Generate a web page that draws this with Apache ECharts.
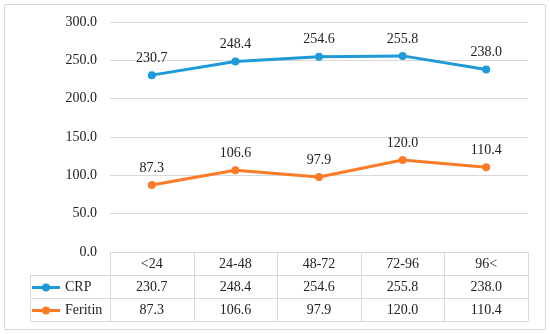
<!DOCTYPE html>
<html><head><meta charset="utf-8">
<script src="https://cdn.jsdelivr.net/npm/echarts@6/dist/echarts.min.js"></script>
<style>html,body{margin:0;padding:0;background:#fff}#c{width:550px;height:334px}</style>
</head><body><div id="c"></div>
<script>
var categories = ['<24', '24-48', '48-72', '72-96', '96<'];
var seriesNames = ['CRP', 'Feritin'];
var crp = [230.7, 248.4, 254.6, 255.8, 238.0];
var feritin = [87.3, 106.6, 97.9, 120.0, 110.4];
var yTicks = [0, 50, 100, 150, 200, 250, 300];

var colors = ['#1E9AD8', '#FB7B26'];
var FONT = '"Liberation Serif", "DejaVu Serif", serif';
var FS = 14;
var chart = echarts.init(document.getElementById('c'));
var gridL = 110, gridR = 22, gridT = 22, gridB = 82;
var rowH = 23;
function lineSeries(name, data, color) {
  return {
    name: name, type: 'line', data: data, color: color,
    symbol: 'circle', symbolSize: 8,
    lineStyle: { width: 3, color: color },
    itemStyle: { color: color },
    label: { show: true, position: 'top', distance: 6, color: '#222', fontFamily: FONT, fontSize: FS,
      formatter: function (p) { return p.value.toFixed(1); } },
    animation: false
  };
}
chart.setOption({
  animation: false,
  backgroundColor: '#fff',
  grid: { left: gridL, right: gridR, top: gridT, bottom: gridB },
  xAxis: { type: 'category', data: categories, boundaryGap: true,
    axisLine: { show: false }, axisTick: { show: false }, axisLabel: { show: false } },
  yAxis: { type: 'value', min: yTicks[0], max: yTicks[yTicks.length - 1], interval: 50,
    axisLine: { show: false }, axisTick: { show: false },
    splitLine: { lineStyle: { color: '#d9d9d9', width: 1 } },
    axisLabel: { margin: 13, color: '#222', fontFamily: FONT, fontSize: FS,
      formatter: function (v) { return v.toFixed(1); } } },
  series: [lineSeries(seriesNames[0], crp, colors[0]), lineSeries(seriesNames[1], feritin, colors[1])]
});

// data table under the plot, positioned from the axes
var W = chart.getWidth(), H = chart.getHeight();
var x0 = gridL, x1 = W - gridR;
var yTop = chart.convertToPixel({ yAxisIndex: 0 }, 0);
var step = (x1 - x0) / categories.length;
var legendLeft = 30;
var els = [];
var lineStyle = { stroke: '#d9d9d9', lineWidth: 1 };
els.push({ type: 'rect', shape: { x: 4.5, y: 4.5, width: W - 9, height: H - 9 }, style: { fill: null, stroke: '#d9d9d9', lineWidth: 1 }, silent: true });
for (var r = 1; r <= 3; r++) {
  var yy = Math.round(yTop + r * rowH) + 0.5;
  els.push({ type: 'line', shape: { x1: legendLeft, y1: yy, x2: x1, y2: yy }, style: lineStyle, silent: true });
}
for (var i = 0; i <= categories.length; i++) {
  var xx = Math.round(x0 + i * step) + 0.5;
  els.push({ type: 'line', shape: { x1: xx, y1: yTop, x2: xx, y2: yTop + 3 * rowH }, style: lineStyle, silent: true });
}
els.push({ type: 'line', shape: { x1: legendLeft + 0.5, y1: yTop + rowH, x2: legendLeft + 0.5, y2: yTop + 3 * rowH }, style: lineStyle, silent: true });
var rows = [categories, crp.map(function (v) { return v.toFixed(1); }), feritin.map(function (v) { return v.toFixed(1); })];
rows.forEach(function (row, ri) {
  row.forEach(function (txt, ci) {
    var cx = chart.convertToPixel({ xAxisIndex: 0 }, ci);
    els.push({ type: 'text', x: cx, y: yTop + ri * rowH + rowH / 2 + 1, silent: true,
      style: { text: txt, fill: '#222', font: FS + 'px ' + FONT, align: 'center', verticalAlign: 'middle' } });
  });
});
// legend keys in table's first column
seriesNames.forEach(function (nm, si) {
  var cy = Math.round(yTop + (si + 1) * rowH + rowH / 2) + 0.5;
  els.push({ type: 'line', shape: { x1: 32, y1: cy, x2: 60, y2: cy }, style: { stroke: colors[si], lineWidth: 3 }, silent: true });
  els.push({ type: 'circle', shape: { cx: 46, cy: cy, r: 4 }, style: { fill: colors[si] }, silent: true });
  els.push({ type: 'text', x: 65, y: cy, silent: true,
    style: { text: nm, fill: '#222', font: FS + 'px ' + FONT, align: 'left', verticalAlign: 'middle' } });
});
chart.setOption({ graphic: els });
</script></body></html>
